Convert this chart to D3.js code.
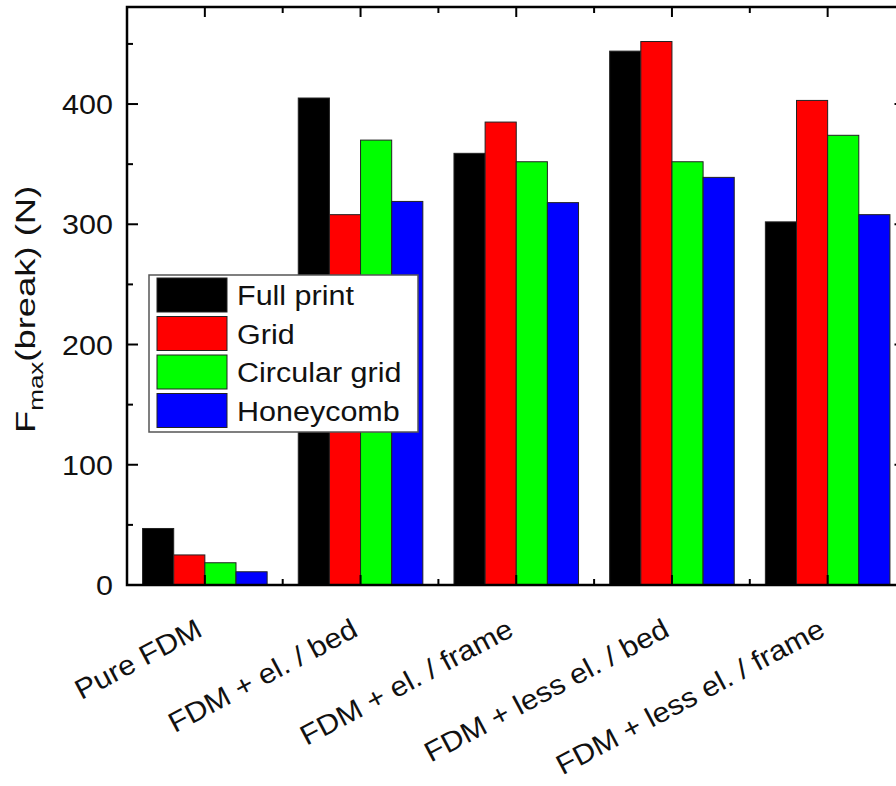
<!DOCTYPE html>
<html>
<head>
<meta charset="utf-8">
<script src="https://cdn.jsdelivr.net/npm/d3@7"></script>
<style>
  html, body { margin: 0; padding: 0; background: #fff; }
  svg { display: block; font-family: Arial, "Liberation Sans", sans-serif; }
</style>
</head>
<body>
<svg id="chart" width="896" height="786"></svg>
<script>
// Maximum breaking force for each print configuration and infill pattern
const categories = ["Pure FDM", "FDM + el. / bed", "FDM + el. / frame", "FDM + less el. / bed", "FDM + less el. / frame"];
const seriesNames = ["Full print", "Grid", "Circular grid", "Honeycomb"];
const seriesColors = ["#000000", "#ff0000", "#00ff00", "#0000ff"];
const fullPrint   = [47, 405, 359, 444, 302];
const grid        = [25, 308, 385, 452, 403];
const circular    = [18.5, 370, 352, 352, 374];
const honeycomb   = [11, 319, 318, 339, 308];
const seriesValues = [fullPrint, grid, circular, honeycomb];
const yMajorTicks = [0, 100, 200, 300, 400];
const yMinorTicks = [50, 150, 250, 350, 450];

const svg = d3.select("#chart");
const plotLeft = 127, plotRight = 905.5, plotTop = 7, plotBottom = 585;
const fontSize = 28, stretch = 1.09, textColor = "#111";

const x = d3.scaleBand().domain(categories).range([plotLeft, plotRight])
  .paddingInner(0.2).paddingOuter(0.1);
const xs = d3.scaleBand().domain(seriesNames).range([0, x.bandwidth()]);
const y = d3.scaleLinear().domain([0, 480.7]).range([plotBottom, plotTop]);

// Bars
const groups = svg.append("g").selectAll("g")
  .data(categories)
  .join("g")
  .attr("transform", d => `translate(${x(d)},0)`);

groups.selectAll("rect")
  .data((c, i) => seriesNames.map((s, j) => ({ s, j, v: seriesValues[j][i] })))
  .join("rect")
  .attr("x", d => xs(d.s))
  .attr("y", d => y(d.v))
  .attr("width", xs.bandwidth())
  .attr("height", d => y(0) - y(d.v))
  .attr("fill", d => seriesColors[d.j])
  .attr("stroke", "#222")
  .attr("stroke-width", 1);

// Frame with inward ticks
const frame = svg.append("g").attr("stroke", "#000").attr("fill", "none");
frame.append("rect")
  .attr("x", plotLeft).attr("y", plotTop)
  .attr("width", plotRight - plotLeft).attr("height", plotBottom - plotTop)
  .attr("stroke-width", 2.5);

const step = x.step();
const xCenters = categories.map(c => x(c) + x.bandwidth() / 2);
const xMinor = categories.slice(0, -1).map(c => x(c) + x.bandwidth() / 2 + step / 2);

// Left and right y ticks
[[plotLeft, 1], [plotRight, -1]].forEach(([x0, dir]) => {
  yMajorTicks.forEach(t => frame.append("line")
    .attr("x1", x0).attr("x2", x0 + dir * 11)
    .attr("y1", y(t)).attr("y2", y(t)).attr("stroke-width", 2));
  yMinorTicks.forEach(t => frame.append("line")
    .attr("x1", x0).attr("x2", x0 + dir * 6)
    .attr("y1", y(t)).attr("y2", y(t)).attr("stroke-width", 2));
});

// Bottom and top x ticks
[[plotBottom, -1], [plotTop, 1]].forEach(([y0, dir]) => {
  xCenters.forEach(cx => frame.append("line")
    .attr("x1", cx).attr("x2", cx)
    .attr("y1", y0).attr("y2", y0 + dir * 10).attr("stroke-width", 2));
  xMinor.forEach(cx => frame.append("line")
    .attr("x1", cx).attr("x2", cx)
    .attr("y1", y0).attr("y2", y0 + dir * 6).attr("stroke-width", 2));
});

// Y tick labels
svg.append("g").selectAll("text")
  .data(yMajorTicks)
  .join("text")
  .attr("transform", d => `translate(113,${y(d)}) scale(${stretch},1)`)
  .attr("dy", "0.36em")
  .attr("text-anchor", "end")
  .attr("font-size", fontSize)
  .attr("fill", textColor)
  .text(d => d);

// Rotated category labels
svg.append("g").selectAll("text")
  .data(categories)
  .join("text")
  .attr("transform", (d, i) => `translate(${xCenters[i] - 1},635) rotate(-28) scale(${stretch},1)`)
  .attr("text-anchor", "end")
  .attr("font-size", fontSize)
  .attr("fill", textColor)
  .text(d => d);

// Y axis title
const yTitle = svg.append("text")
  .attr("transform", `translate(35,433) rotate(-90) scale(1.3,1)`)
  .attr("text-anchor", "start")
  .attr("font-size", fontSize)
  .attr("fill", textColor);
yTitle.append("tspan").text("F");
yTitle.append("tspan").attr("font-size", 20).attr("dy", 8).text("max");
yTitle.append("tspan").attr("dy", -8).text("(break) (N)");

// Legend
const legend = svg.append("g");
legend.append("rect")
  .attr("x", 149).attr("y", 275)
  .attr("width", 269).attr("height", 157)
  .attr("fill", "#fff").attr("stroke", "#555").attr("stroke-width", 1.5);
const rowH = 38.5;
seriesNames.forEach((s, j) => {
  const ry = 278 + j * rowH;
  legend.append("rect")
    .attr("x", 157).attr("y", ry)
    .attr("width", 70).attr("height", 34)
    .attr("fill", seriesColors[j]).attr("stroke", "#222").attr("stroke-width", 1);
  legend.append("text")
    .attr("transform", `translate(237,${ry + 17}) scale(${stretch},1)`)
    .attr("dy", "0.36em")
    .attr("font-size", fontSize)
    .attr("fill", textColor)
    .text(s);
});
</script>
</body>
</html>
